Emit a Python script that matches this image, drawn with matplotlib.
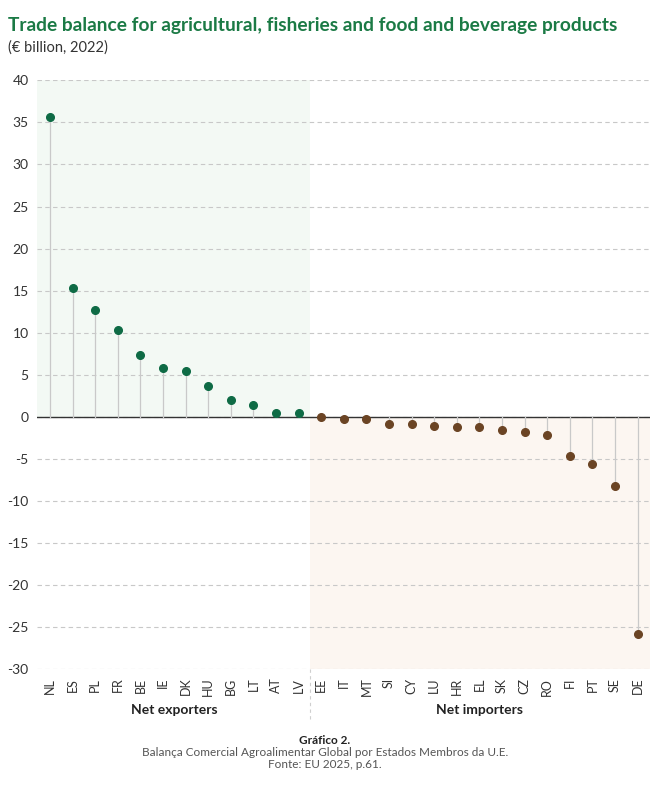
import matplotlib
matplotlib.use("Agg")
import matplotlib.pyplot as plt

countries = ["NL","ES","PL","FR","BE","IE","DK","HU","BG","LT","AT","LV",
             "EE","IT","MT","SI","CY","LU","HR","EL","SK","CZ","RO","FI","PT","SE","DE"]
values = [35.6,15.3,12.7,10.3,7.4,5.8,5.4,3.7,2.0,1.4,0.5,0.5,
          -0.05,-0.2,-0.3,-0.8,-0.9,-1.1,-1.2,-1.2,-1.6,-1.8,-2.2,-4.6,-5.6,-8.2,-25.8]
n_exp = 12
yticks = list(range(-30, 41, 5))

green = "#0e6b45"; brown = "#6b4424"
plt.rcParams['font.family'] = ['Lato', 'DejaVu Sans']
fig = plt.figure(figsize=(6.5, 7.95), dpi=100)
ax = fig.add_axes([0.057, 0.158, 0.943, 0.741])
x = list(range(len(countries)))
ax.set_xlim(-0.575, 26.55)
ax.set_ylim(-30, 40)
b = n_exp - 0.5
ax.fill_between([-0.575, b], 0, 40, color="#f3f9f4", zorder=0, lw=0)
ax.fill_between([b, 26.55], -30, 0, color="#fcf6f1", zorder=0, lw=0)
for t in yticks:
    ax.axhline(t, color="#c8c8c8", ls=(0, (4, 3)), lw=0.8, zorder=1)
ax.axhline(0, color="#333333", lw=1, zorder=2)
for i, v in enumerate(values):
    c = green if i < n_exp else brown
    ax.plot([i, i], [0, v], color="#c9c9c9", lw=0.9, zorder=2)
    ax.plot(i, v, "o", color=c, ms=5.5, zorder=3)
ax.set_yticks(yticks)
ax.set_yticklabels([str(t) for t in yticks], fontsize=10, color="#333333")
ax.set_xticks(x)
ax.set_xticklabels(countries, rotation=90, fontsize=9, color="#333333")
ax.tick_params(length=0, pad=6)
for s in ax.spines.values():
    s.set_visible(False)
ax.plot([b, b], [-30, -36.0], color="#cfcfcf", ls=(0, (3, 3)), lw=0.8, clip_on=False)
ax.text((n_exp - 1) / 2, -35.3, "Net exporters", ha="center", fontsize=10, fontweight="bold", color="#222222")
ax.text((n_exp + 26) / 2, -35.3, "Net importers", ha="center", fontsize=10, fontweight="bold", color="#222222")

fig.text(0.012, 0.968, "Trade balance for agricultural, fisheries and food and beverage products",
         fontsize=13.8, fontweight="bold", color="#1b7a45", va="center")
fig.text(0.012, 0.940, "(€ billion, 2022)", fontsize=10.5, color="#333333", va="center")
fig.text(0.5, 0.064, "Gráfico 2.", ha="center", fontsize=8.5, fontweight="bold", color="#222222")
fig.text(0.5, 0.049, "Balança Comercial Agroalimentar Global por Estados Membros da U.E.", ha="center", fontsize=8.5, color="#555555")
fig.text(0.5, 0.034, "Fonte: EU 2025, p.61.", ha="center", fontsize=8.5, color="#555555")
fig.savefig("out.png", dpi=100)
